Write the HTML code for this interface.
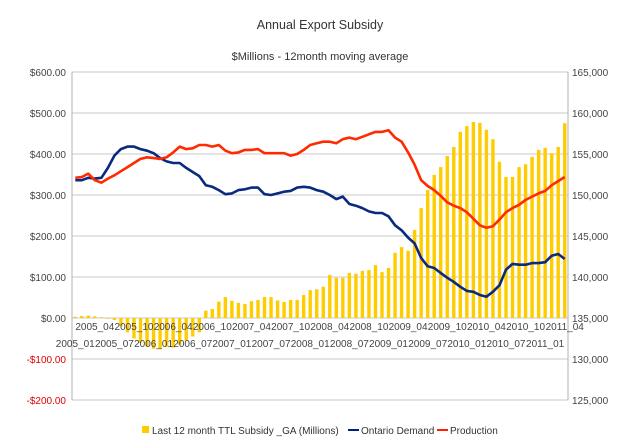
<!DOCTYPE html>
<html><head><meta charset="utf-8"><style>
html,body{margin:0;padding:0;background:#fff;}
svg{display:block;font-family:"Liberation Sans",sans-serif;}
</style></head><body>
<svg id="chart" width="640" height="447" viewBox="0 0 640 447">
<text x="320" y="29" text-anchor="middle" font-size="12.5" fill="#333">Annual Export Subsidy</text>
<text x="320" y="60" text-anchor="middle" font-size="11" fill="#333">$Millions - 12month moving average</text>
<g id="grid"></g><g id="bars"></g><g id="lines"></g><g id="axes"></g>
<g>
<rect x="142" y="426" width="7" height="7" fill="#ffcc00"/>
<text x="152" y="434" font-size="10" fill="#333">Last 12 month TTL Subsidy _GA (Millions)</text>
<line x1="348" y1="430" x2="359" y2="430" stroke="#002080" stroke-width="2"/>
<text x="361" y="434" font-size="10" fill="#333">Ontario Demand</text>
<line x1="437" y1="430" x2="448" y2="430" stroke="#ff2000" stroke-width="2"/>
<text x="450" y="434" font-size="10" fill="#333">Production</text>
</g>
</svg>
<script>
const subsidy = [3,5,6,4,2,0,
 -5,-20,-35,-50,-60,-70,-75,-75,-70,-72,-65,-55,-45,-35,
 18,22,40,51,42,37,34,41,44,51,51,43,39,44,44,56,68,70,76,105,98,98,110,108,115,117,129,112,122,159,173,164,215,
 268,312,349,368,395,417,454,468,478,476,459,436,381,344,344,368,375,393,410,415,402,417,475];
const demand = [151.8,151.8,152.1,152.0,152.1,153.3,154.8,155.6,155.9,155.9,
 155.6,155.4,155.1,154.5,154.1,153.9,153.9,153.3,152.8,152.3,
 151.2,151.0,150.6,150.1,150.2,150.6,150.7,150.9,150.9,150.1,
 150.0,150.2,150.4,150.5,150.9,151.0,150.9,150.6,150.4,150.0,
 149.5,149.8,148.9,148.7,148.4,148.0,147.8,147.8,147.4,146.3,
 145.7,144.8,144.1,142.3,141.3,141.1,140.5,139.9,139.4,138.8,
 138.3,138.2,137.8,137.6,138.2,139.0,140.9,141.6,141.5,141.5,
 141.7,141.7,141.8,142.6,142.8,142.2];
const production = [152.1,152.2,152.6,151.8,151.5,152.0,152.4,152.9,153.4,153.9,
 154.4,154.6,154.5,154.4,154.6,155.2,155.9,155.6,155.7,156.1,
 156.1,155.9,156.1,155.4,155.1,155.2,155.5,155.5,155.6,155.1,
 155.1,155.1,155.1,154.8,155.0,155.5,156.1,156.3,156.5,156.5,
 156.3,156.8,157.0,156.8,157.1,157.4,157.7,157.7,157.9,157.0,
 156.5,155.2,153.7,151.8,151.1,150.6,149.9,149.1,148.7,148.4,
 147.9,147.1,146.3,146.0,146.2,147.0,147.9,148.4,148.8,149.4,
 149.8,150.2,150.5,151.2,151.7,152.2];
const leftTicks = [600,500,400,300,200,100,0,-100,-200];
const leftTickLabels = ["$600.00","$500.00","$400.00","$300.00","$200.00","$100.00","$0.00","-$100.00","-$200.00"];
const rightTicks = [165,160,155,150,145,140,135,130,125];
const rightTickLabels = ["165,000","160,000","155,000","150,000","145,000","140,000","135,000","130,000","125,000"];
const startYear = 2005, startMonth = 1;

const NS="http://www.w3.org/2000/svg";
const X0=72, X1=568, Y0=72, Y1=400;
const n = subsidy.length;
const step = (X1-X0)/n;
function xPos(i){ return X0 + step*(i+0.5); }
function yL(v){ return Y0 + (600-v)/800*(Y1-Y0); }
function yR(v){ return Y0 + (165-v)/40*(Y1-Y0); }
function mk(tag, attrs, parent){ const e=document.createElementNS(NS,tag); for(const k in attrs) e.setAttribute(k, attrs[k]); parent.appendChild(e); return e; }

const grid=document.getElementById('grid');
leftTicks.forEach((t,k)=>{
  const g=mk('line',{x1:X0,x2:X1,y1:yL(t),y2:yL(t),stroke:'#c8c8c8','stroke-width':1},grid);
  
  
});
const axes=document.getElementById('axes');
let a=mk('line',{x1:X0,x2:X0,y1:Y0,y2:Y1,stroke:'#b0b0b0'},axes);
 
a=mk('line',{x1:X1,x2:X1,y1:Y0,y2:Y1,stroke:'#b0b0b0'},axes);
 
leftTicks.forEach((t,k)=>{
  const e=mk('text',{x:X0-6,y:yL(t)+4,'text-anchor':'end','font-size':10,fill:t<0?'#e00000':'#444'},axes);
  e.textContent=leftTickLabels[k];
  
  
});
rightTicks.forEach((t,k)=>{
  const e=mk('text',{x:X1+4,y:yR(t)+4,'font-size':10,fill:'#444'},axes);
  e.textContent=rightTickLabels[k];
  
  
});
for(let i=0;i<n;i+=3){
  const m=(startMonth-1+i)%12+1, y=startYear+Math.floor((startMonth-1+i)/12);
  const row=(i/3)%2===0?1:0;
  const e=mk('text',{x:xPos(i),y:row?347:330,'text-anchor':'middle','font-size':10,fill:'#444'},axes);
  e.textContent=y+'_'+(m<10?'0':'')+m;
  
  
}
const bars=document.getElementById('bars');
subsidy.forEach((v,i)=>{
  const y0=yL(0), y=yL(v);
  const b=mk('rect',{x:xPos(i)-1.7,width:3.4,y:Math.min(y,y0),height:Math.max(Math.abs(y-y0),0.8),fill:'#ffcc00'},bars);
  
  
});
const lines=document.getElementById('lines');
function line(arr,color,name){
  const d=arr.map((v,i)=>(i?'L':'M')+xPos(i).toFixed(1)+','+yR(v).toFixed(1)).join(' ');
  const p=mk('path',{d:d,fill:'none',stroke:color,'stroke-width':2.6,'stroke-linejoin':'round'},lines);
  
  
}
line(demand,'#0a2a80','ontario-demand-line');
line(production,'#ff2a00','production-line');
</script>
</body></html>
